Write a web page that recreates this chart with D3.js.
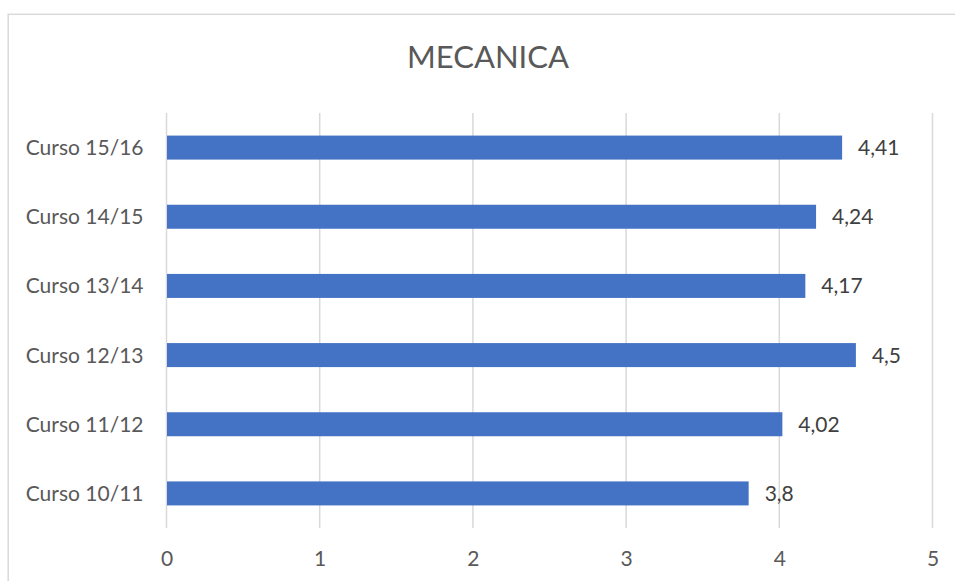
<!DOCTYPE html>
<html><head><meta charset="utf-8">
<script src="https://cdn.jsdelivr.net/npm/d3@7"></script>
<style>body{margin:0;background:#fff}svg{display:block}</style>
</head><body>
<svg id="c" width="955" height="581"></svg>
<script>
const title = "MECANICA";
const categories = ["Curso 10/11","Curso 11/12","Curso 12/13","Curso 13/14","Curso 14/15","Curso 15/16"];
const values = [3.8, 4.02, 4.5, 4.17, 4.24, 4.41];
const valueLabels = ["3,8","4,02","4,5","4,17","4,24","4,41"];
const xTicks = [0,1,2,3,4,5];

const svg = d3.select("#c");
const font = "Lato, 'Liberation Sans', Arial, sans-serif";
const txt = "#595959";

svg.append("rect").attr("x",8.2).attr("y",14.3).attr("width",1000).attr("height",700)
  .attr("fill","#fff").attr("stroke","#d9d9d9").attr("stroke-width",1.5);

const x = d3.scaleLinear().domain([0,5]).range([166.5,932.5]);
const y = d3.scaleBand().domain(categories.slice().reverse()).range([113,528])
  .paddingInner(0.653).paddingOuter(0.3265);

svg.append("text").attr("x",488).attr("y",68).attr("text-anchor","middle")
  .attr("font-family",font).attr("font-size",31).attr("fill",txt).text(title);

// gridlines
svg.append("g").selectAll("line").data(xTicks).join("line")
  .attr("x1",d=>x(d)).attr("x2",d=>x(d)).attr("y1",113).attr("y2",528)
  .attr("stroke","#d9d9d9").attr("stroke-width",1.5);

// x axis labels
const xa = svg.append("g").attr("transform","translate(0,528)")
  .call(d3.axisBottom(x).tickValues(xTicks).tickSize(0).tickPadding(0).tickFormat(d=>String(d)));
xa.select(".domain").remove();
xa.selectAll("text").attr("dy",null).attr("y",38).attr("font-family",font).attr("font-size",21).attr("fill",txt);

// y axis labels
const ya = svg.append("g").attr("transform","translate(166.5,0)")
  .call(d3.axisLeft(y).tickSize(0).tickPadding(23));
ya.select(".domain").remove();
ya.selectAll("text").attr("dy","0.36em").attr("font-family",font).attr("font-size",21).attr("fill",txt);

const data = categories.map((c,i)=>({c, v:values[i], l:valueLabels[i]}));
svg.append("g").selectAll("rect").data(data).join("rect")
  .attr("x",x(0)+0.5).attr("y",d=>y(d.c)).attr("width",d=>x(d.v)-x(0)-0.5)
  .attr("height",y.bandwidth()).attr("fill","#4472C4");

svg.append("g").selectAll("text").data(data).join("text")
  .attr("x",d=>x(d.v)+16).attr("y",d=>y(d.c)+y.bandwidth()/2).attr("dy","0.36em")
  .attr("font-family",font).attr("font-size",21).attr("fill","#404040").text(d=>d.l);
</script>
</body></html>
